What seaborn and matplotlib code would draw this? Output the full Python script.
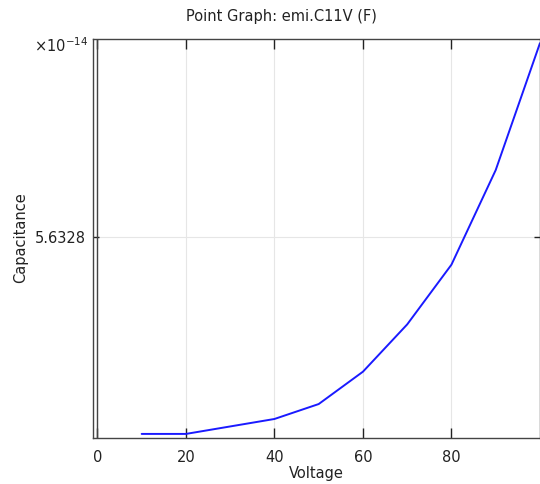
import numpy as np
import pandas as pd
import matplotlib
matplotlib.use("Agg")
import matplotlib.pyplot as plt
import seaborn as sns

# data (capacitance in units of 1e-14 F)
voltage = [10, 20, 30, 40, 50, 60, 70, 80, 90, 100]
capacitance = [5.632721, 5.632721, 5.632724, 5.632727, 5.632733,
               5.632746, 5.632765, 5.632789, 5.632827, 5.632878]
y_ticks = [5.6328]
y_tick_labels = ["5.6328"]
x_ticks = [0, 20, 40, 60, 80]

df = pd.DataFrame({"Voltage": voltage, "Capacitance": capacitance})

sns.set_style("white")
plt.rcParams["font.family"] = ["DejaVu Sans"]
plt.rcParams["mathtext.default"] = "regular"

fig = plt.figure(figsize=(5.4, 4.84), dpi=100)
ax = fig.add_axes([93 / 540, 1 - 437.5 / 484, (539.5 - 93) / 540, (437.5 - 39.3) / 484])

sns.lineplot(data=df, x="Voltage", y="Capacitance", ax=ax, color="#1a1aff", linewidth=1.4)

ax.set_xlim(-1.0, 99.9)
ax.set_ylim(5.63271956, 5.63287956)
ax.set_xticks(x_ticks)
ax.set_xticklabels([str(t) for t in x_ticks], fontsize=10.5, color="#222222")
ax.set_yticks(y_ticks)
ax.set_yticklabels(y_tick_labels, fontsize=10.5, color="#222222")

ax.grid(True, color="#e6e6e6", linewidth=0.8)
ax.axvline(0, color="#444444", linewidth=1.0)
ax.tick_params(axis="x", direction="in", length=7, width=1, top=True, bottom=True, color="#222222", pad=9)
ax.tick_params(axis="y", direction="in", length=4, width=1, left=True, right=True, color="#222222", pad=5)

for s in ax.spines.values():
    s.set_color("#444444")
    s.set_linewidth(1.0)

ax.set_xlabel("Voltage", fontsize=10.5, labelpad=1, color="#222222")
ax.set_ylabel("")
fig.text(21 / 540, 1 - 238 / 484, "Capacitance", rotation=90, ha="center", va="center",
         fontsize=10.5, color="#222222")

fig.text(281 / 540, 1 - 16 / 484, "Point Graph: emi.C11V (F)", ha="center", va="center",
         fontsize=10.5, color="#222222")
fig.text(88 / 540, 1 - 46 / 484, r"×10$^{-14}$", ha="right", va="center",
         fontsize=10.5, color="#222222")

fig.savefig("out.png", dpi=100)
